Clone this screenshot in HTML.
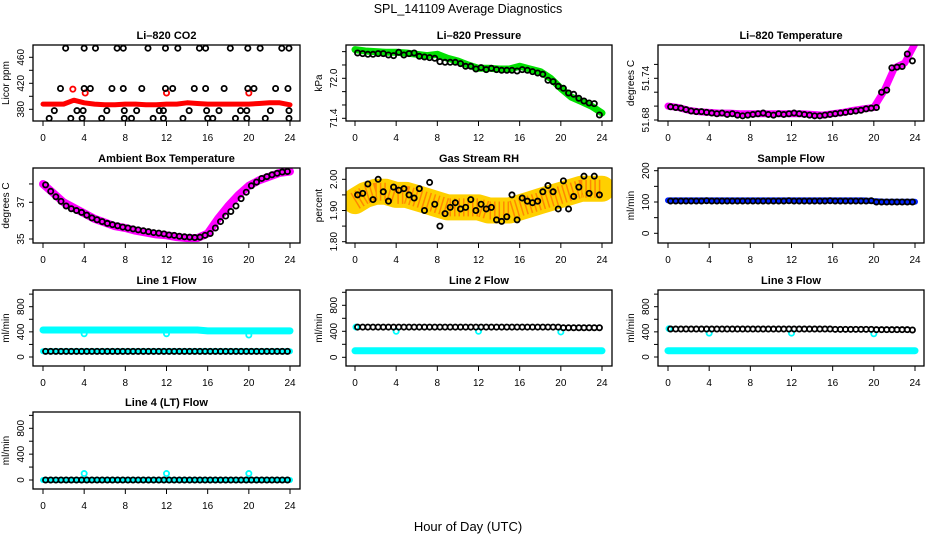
<!DOCTYPE html>
<html><head><meta charset="utf-8"><style>
html,body{margin:0;padding:0;background:#fff;}
svg{display:block;font-family:"Liberation Sans",sans-serif;}
</style></head><body>
<svg id="chart" width="936" height="540" viewBox="0 0 936 540">
<text x="468" y="13" text-anchor="middle" font-size="12.5">SPL_141109  Average Diagnostics</text>
<text x="468" y="531" text-anchor="middle" font-size="13">Hour of Day (UTC)</text>
</svg>
<script>
const xTicks = [0,4,8,12,16,20,24];
const bandHours = [0,1,2,3,4,5,6,7,8,9,10,11,12,13,14,15,16,17,18,19,20,21,22,23,24];
const ptHours = [0.25,0.75,1.25,1.75,2.25,2.75,3.25,3.75,4.25,4.75,5.25,5.75,6.25,6.75,7.25,7.75,8.25,8.75,9.25,9.75,10.25,10.75,11.25,11.75,12.25,12.75,13.25,13.75,14.25,14.75,15.25,15.75,16.25,16.75,17.25,17.75,18.25,18.75,19.25,19.75,20.25,20.75,21.25,21.75,22.25,22.75,23.25,23.75];
const outlierHours = [4,12,20];

// CO2
const co2Band = [388,388,388,394,390,388,387,387,388,388,387,387,388,388,390,389,388,388,388,388,388,389,390,390,387];
const co2Hours = [2.2,4.0,5.1,7.2,7.8,10.2,11.9,13.1,15.2,15.8,18.2,19.9,21.1,23.2,23.9, 1.7,4.0,4.6,6.7,7.8,9.6,11.9,12.6,14.7,15.8,17.6,19.9,20.5,22.6,23.8, 1.1,3.3,3.9,6.2,7.9,9.1,11.3,11.7,14.2,15.9,17.1,19.2,19.8,22.1,23.9, 0.6,2.7,3.8,5.7,7.9,8.6,10.7,11.7,13.6,16.0,16.5,18.7,19.8,21.6,23.9];
const co2Vals = [474,474,474,474,474,474,474,474,474,474,474,474,474,474,474, 412,412,412,412,412,412,412,412,412,412,412,412,412,412,412, 378,378,378,378,378,378,378,378,378,378,378,378,378,378,378, 366,366,366,366,366,366,366,366,366,366,366,366,366,366,366];
const co2RedHours = [2.9,4.1,12.0,20.0];
const co2RedVals = [411,405,405,405];
// Pressure
const presBand = [72.43,72.41,72.40,72.39,72.39,72.38,72.36,72.34,72.36,72.30,72.26,72.20,72.15,72.15,72.14,72.14,72.18,72.14,72.10,72.00,71.85,71.72,71.65,71.58,71.48];
const presVals = [72.38,72.37,72.36,72.36,72.37,72.37,72.35,72.34,72.39,72.35,72.37,72.38,72.33,72.32,72.31,72.30,72.25,72.24,72.24,72.24,72.22,72.18,72.18,72.14,72.16,72.13,72.15,72.13,72.12,72.12,72.12,72.11,72.13,72.12,72.10,72.08,72.06,71.97,71.95,71.88,71.85,71.78,71.76,71.70,71.66,71.63,71.62,71.45];
// Li-820 temperature
const tempBand = [51.700,51.698,51.694,51.692,51.691,51.690,51.690,51.689,51.689,51.689,51.689,51.689,51.689,51.689,51.688,51.687,51.689,51.691,51.694,51.696,51.698,51.722,51.755,51.762,51.790];
const tempVals = [51.699,51.698,51.697,51.695,51.693,51.692,51.692,51.691,51.690,51.689,51.690,51.688,51.689,51.687,51.686,51.687,51.688,51.689,51.690,51.688,51.687,51.689,51.688,51.689,51.690,51.689,51.688,51.687,51.686,51.686,51.687,51.688,51.689,51.690,51.691,51.692,51.693,51.694,51.696,51.697,51.698,51.720,51.723,51.755,51.756,51.757,51.775,51.765];
// Ambient
const ambBand = [38.0,37.5,37.0,36.7,36.4,36.1,35.9,35.7,35.6,35.45,35.35,35.25,35.2,35.1,35.05,35.05,35.3,36.1,36.8,37.4,37.9,38.2,38.4,38.6,38.68];
const ambVals = [37.95,37.6,37.3,37.05,36.8,36.65,36.55,36.45,36.3,36.15,36.05,35.95,35.85,35.78,35.72,35.65,35.6,35.55,35.5,35.45,35.4,35.35,35.32,35.28,35.22,35.2,35.15,35.12,35.1,35.08,35.1,35.2,35.3,35.6,35.95,36.25,36.5,36.8,37.2,37.55,37.9,38.1,38.3,38.4,38.5,38.58,38.65,38.68];
// RH
const rhBand = [1.93,1.95,1.96,1.96,1.95,1.95,1.94,1.93,1.92,1.91,1.91,1.91,1.91,1.90,1.90,1.90,1.91,1.92,1.93,1.94,1.95,1.96,1.97,1.97,1.97];
const rhVals = [1.95,1.955,1.985,1.935,2.00,1.96,1.93,1.975,1.965,1.97,1.95,1.94,1.97,1.90,1.99,1.92,1.85,1.89,1.91,1.925,1.905,1.91,1.935,1.90,1.92,1.905,1.91,1.87,1.865,1.88,1.95,1.87,1.94,1.93,1.925,1.93,1.96,1.98,1.96,1.905,1.995,1.905,1.945,1.975,2.01,1.955,2.01,1.95];
// Sample flow
const sampBand = [105,105,105,105,105,105,105,105,105,105,105,105,105,105,105,105,105,105,105,105,103,101,101,101,101];
const sampVals = [103,103,103,103,103,103,103,104,103,103,103,103,103,103,103,103,103,103,103,103,103,103,103,104,103,103,103,103,103,103,103,104,103,103,103,103,103,103,103,104,100,100,100,100,100,100,100,100];
// Line flows
const l1Cyan = [430,430,430,430,430,430,430,430,430,430,430,430,430,430,430,430,415,415,415,415,415,415,415,415,415];
const l1Low = [90,90,90,90,90,90,90,90,90,90,90,90,90,90,90,90,90,90,90,90,90,90,90,90,90];
const l1Out = [370,370,350];
const l1Vals = [90,90,90,90,90,90,90,90,90,90,90,90,90,90,90,90,90,90,90,90,90,90,90,90,90,90,90,90,90,90,90,90,90,90,90,90,90,90,90,90,90,90,90,90,90,90,90,90];
const l2Cyan = [100,100,100,100,100,100,100,100,100,100,100,100,100,100,100,100,100,100,100,100,100,100,100,100,100];
const l2Out = [400,400,390];
const l2Vals = [465,465,465,465,465,465,465,465,465,465,465,465,465,465,465,465,465,465,465,465,465,465,465,465,465,465,465,465,465,465,465,465,465,465,465,465,465,465,465,465,455,455,455,455,455,455,455,455];
const l3Cyan = [100,100,100,100,100,100,100,100,100,100,100,100,100,100,100,100,100,100,100,100,100,100,100,100,100];
const l3Out = [380,380,370];
const l3Vals = [445,445,445,445,445,445,445,445,445,445,445,445,445,445,445,445,445,445,445,445,445,445,445,445,445,445,445,445,445,445,445,445,440,440,440,440,440,440,440,440,435,435,435,435,435,435,435,430];
const l4Cyan = [0,0,0,0,0,0,0,0,0,0,0,0,0,0,0,0,0,0,0,0,0,0,0,0,0];
const l4Out = [100,100,100];
const l4Vals = [0,0,0,0,0,0,0,0,0,0,0,0,0,0,0,0,0,0,0,0,0,0,0,0,0,0,0,0,0,0,0,0,0,0,0,0,0,0,0,0,0,0,0,0,0,0,0,0];

const NS = 'http://www.w3.org/2000/svg';
const svg = document.getElementById('chart');
const cols = [{bx:33,bw:267,x0:43,x24:290},{bx:346,bw:266,x0:355,x24:602},{bx:658,bw:266,x0:668,x24:915}];
const rows = [{by:45,bh:76},{by:168,bh:75},{by:290,bh:76},{by:412,bh:77}];

function mk(tag, attrs, parent){
  const e = document.createElementNS(NS, tag);
  for (const k in attrs) e.setAttribute(k, attrs[k]);
  (parent||svg).appendChild(e);
  return e;
}

function panel(cfg){
  const c = cols[cfg.col], r = rows[cfg.row];
  const g = mk('g', {});
  
  
  const xs = h => c.x0 + (h/24)*(c.x24 - c.x0);
  const ys = v => cfg.p1 + (v - cfg.v1)*(cfg.p2 - cfg.p1)/(cfg.v2 - cfg.v1);
  const clipId = 'clip' + cfg.name;
  const cp = mk('clipPath', {id: clipId}, g);
  mk('rect', {x:c.bx, y:r.by, width:c.bw, height:r.bh}, cp);
  const t = mk('text', {x:c.bx + c.bw/2, y:r.by - 6, 'text-anchor':'middle', 'font-size':'11', 'font-weight':'bold'}, g);
  t.textContent = cfg.title;
  
  
  const data = mk('g', {'clip-path':'url(#' + clipId + ')'}, g);
  
  
  cfg.draw(data, xs, ys);
  const box = mk('rect', {x:c.bx, y:r.by, width:c.bw, height:r.bh, fill:'none', stroke:'#000', 'stroke-width':'1.3'}, g);
  
  
  const xa = mk('g', {}, g);
  
  
  const yb = r.by + r.bh;
  xTicks.forEach(h => {
    mk('line', {x1:xs(h), x2:xs(h), y1:yb, y2:yb+5, stroke:'#000', 'stroke-width':'1'}, xa);
    const tl = mk('text', {x:xs(h), y:yb+20, 'text-anchor':'middle', 'font-size':'10'}, xa);
    tl.textContent = h;
    
    
  });
  const ya = mk('g', {}, g);
  
  
  cfg.ticks.forEach(v => {
    const py = ys(v);
    mk('line', {x1:c.bx-4, x2:c.bx, y1:py, y2:py, stroke:'#000', 'stroke-width':'1'}, ya);
  });
  cfg.labels.forEach(v => {
    const py = ys(v);
    const lx = c.bx - 9;
    const tl = mk('text', {x:lx, y:py, 'text-anchor':'middle', 'font-size':'10', transform:'rotate(-90 ' + lx + ' ' + py + ')'}, ya);
    tl.textContent = cfg.fmt ? cfg.fmt(v) : v;
    
    
  });
  const yl = c.bx - 24, ym = r.by + r.bh/2;
  const yt = mk('text', {x:yl, y:ym, 'text-anchor':'middle', 'font-size':'10', transform:'rotate(-90 ' + yl + ' ' + ym + ')'}, g);
  yt.textContent = cfg.ylab;
  
  
}

function band(parent, xs, ys, hours, vals, color, w, name){
  const pts = hours.map((h,i) => xs(h).toFixed(1) + ',' + ys(vals[i]).toFixed(1)).join(' ');
  const p = mk('polyline', {points:pts, fill:'none', stroke:color, 'stroke-width':w, 'stroke-linecap':'round', 'stroke-linejoin':'round'}, parent);
  
  
  return p;
}
function circles(parent, xs, ys, hours, vals, color, name, r){
  const g = mk('g', {}, parent);
  
  
  hours.forEach((h,i) => {
    mk('circle', {cx:xs(h), cy:ys(vals[i]), r:r||2.6, fill:'none', stroke:color, 'stroke-width':'1.8'}, g);
  });
}

panel({col:0,row:0,name:'co2',title:'Li\u2013820 CO2',ylab:'Licor ppm',v1:380,p1:109.3,v2:460,p2:57.3,
  ticks:[380,400,420,440,460],labels:[380,420,460],
  draw:(g,xs,ys)=>{
    band(g,xs,ys,bandHours,co2Band,'#ff0000',5,'co2-band');
    circles(g,xs,ys,co2RedHours,co2RedVals,'#ff0000','co2-red-points');
    circles(g,xs,ys,co2Hours,co2Vals,'#000','co2-points');
  }});
panel({col:1,row:0,name:'pressure',title:'Li\u2013820 Pressure',ylab:'kPa',v1:71.4,p1:118.3,v2:72.0,p2:78.3,
  ticks:[71.4,71.6,71.8,72.0,72.2,72.4],labels:[71.4,72.0],fmt:v=>v.toFixed(1),
  draw:(g,xs,ys)=>{
    band(g,xs,ys,bandHours,presBand,'#00e000',7,'pressure-band');
    circles(g,xs,ys,ptHours,presVals,'#000','pressure-points');
  }});
panel({col:2,row:0,name:'temperature',title:'Li\u2013820 Temperature',ylab:'degrees C',v1:51.68,p1:120,v2:51.74,p2:78.3,
  ticks:[51.68,51.70,51.72,51.74,51.76],labels:[51.68,51.74],fmt:v=>v.toFixed(2),
  draw:(g,xs,ys)=>{
    band(g,xs,ys,bandHours,tempBand,'#ff00ff',7,'temperature-band');
    circles(g,xs,ys,ptHours,tempVals,'#000','temperature-points');
  }});
panel({col:0,row:1,name:'ambient',title:'Ambient Box Temperature',ylab:'degrees C',v1:35,p1:239,v2:37,p2:202.3,
  ticks:[35,36,37,38],labels:[35,37],
  draw:(g,xs,ys)=>{
    band(g,xs,ys,bandHours,ambBand,'#ff00ff',8,'ambient-band');
    circles(g,xs,ys,ptHours,ambVals,'#000','ambient-points');
  }});
panel({col:1,row:1,name:'rh',title:'Gas Stream RH',ylab:'percent',v1:1.80,p1:241.7,v2:2.00,p2:179.3,
  ticks:[1.80,1.85,1.90,1.95,2.00],labels:[1.80,1.90,2.00],fmt:v=>v.toFixed(2),
  draw:(g,xs,ys)=>{
    band(g,xs,ys,bandHours,rhBand,'#ffd000',26,'rh-band');
    const o = band(g,xs,ys,bandHours,rhBand,'#ff8800',18,'rh-band-inner');
    o.setAttribute('stroke-dasharray','1.5 3');
    o.setAttribute('stroke-linecap','butt');
    circles(g,xs,ys,ptHours,rhVals,'#000','rh-points');
  }});
panel({col:2,row:1,name:'sample-flow',title:'Sample Flow',ylab:'ml/min',v1:0,p1:233.3,v2:200,p2:170.7,
  ticks:[0,50,100,150,200],labels:[0,100,200],
  draw:(g,xs,ys)=>{
    band(g,xs,ys,bandHours,sampBand,'#0022ff',6,'sample-flow-band');
    circles(g,xs,ys,ptHours,sampVals,'#000','sample-flow-points');
  }});
const flowTicks=[0,200,400,600,800,1000], flowLabels=[0,400,800];
panel({col:0,row:2,name:'line1',title:'Line 1 Flow',ylab:'ml/min',v1:0,p1:357,v2:800,p2:306.7,ticks:flowTicks,labels:flowLabels,
  draw:(g,xs,ys)=>{
    band(g,xs,ys,bandHours,l1Cyan,'#00ffff',7,'line1-cyan-band');
    band(g,xs,ys,bandHours,l1Low,'#00ffff',6,'line1-cyan-low');
    circles(g,xs,ys,outlierHours,l1Out,'#00ffff','line1-cyan-outliers');
    circles(g,xs,ys,ptHours,l1Vals,'#000','line1-points');
  }});
panel({col:1,row:2,name:'line2',title:'Line 2 Flow',ylab:'ml/min',v1:0,p1:357.3,v2:400,p2:331.3,ticks:flowTicks,labels:flowLabels,
  draw:(g,xs,ys)=>{
    band(g,xs,ys,bandHours,l2Cyan,'#00ffff',7,'line2-cyan-band');
    circles(g,xs,ys,outlierHours,l2Out,'#00ffff','line2-cyan-outliers');
    circles(g,xs,ys,[0.1],[465],'#00ffff','line2-cyan-start');
    circles(g,xs,ys,ptHours,l2Vals,'#000','line2-points');
  }});
panel({col:2,row:2,name:'line3',title:'Line 3 Flow',ylab:'ml/min',v1:0,p1:357,v2:800,p2:306.7,ticks:flowTicks,labels:flowLabels,
  draw:(g,xs,ys)=>{
    band(g,xs,ys,bandHours,l3Cyan,'#00ffff',7,'line3-cyan-band');
    circles(g,xs,ys,outlierHours,l3Out,'#00ffff','line3-cyan-outliers');
    circles(g,xs,ys,[0.1],[450],'#00ffff','line3-cyan-start');
    circles(g,xs,ys,ptHours,l3Vals,'#000','line3-points');
  }});
panel({col:0,row:3,name:'line4',title:'Line 4 (LT) Flow',ylab:'ml/min',v1:0,p1:480,v2:800,p2:428.3,ticks:flowTicks,labels:flowLabels,
  draw:(g,xs,ys)=>{
    band(g,xs,ys,bandHours,l4Cyan,'#00ffff',6,'line4-cyan-band');
    circles(g,xs,ys,outlierHours,l4Out,'#00ffff','line4-cyan-outliers');
    circles(g,xs,ys,ptHours,l4Vals,'#000','line4-points');
  }});
</script>
</body></html>
